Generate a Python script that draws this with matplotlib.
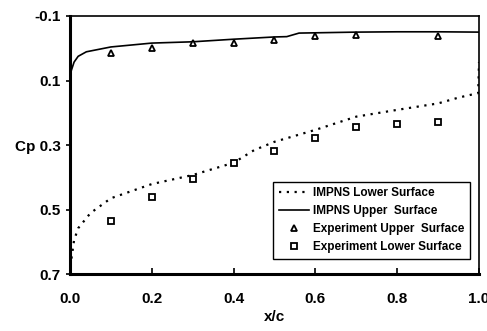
import matplotlib.pyplot as plt

plt.rcParams['font.family'] = ['Liberation Sans', 'DejaVu Sans']
plt.rcParams['font.weight'] = 'bold'

# IMPNS upper surface
upper_x = [0.0, 0.003, 0.01, 0.02, 0.04, 0.1, 0.2, 0.3, 0.4, 0.5, 0.53, 0.56, 0.7, 0.8, 0.9, 1.0]
upper_cp = [0.114, 0.07, 0.043, 0.025, 0.011, -0.004, -0.016, -0.02, -0.028, -0.035, -0.036, -0.047, -0.05, -0.051, -0.051, -0.05]

# IMPNS lower surface
lower_x = [0.0, 0.003, 0.01, 0.02, 0.05, 0.1, 0.2, 0.3, 0.4, 0.45, 0.5, 0.6, 0.7, 0.8, 0.9, 0.95, 0.998, 1.0]
lower_cp = [0.7, 0.657, 0.595, 0.558, 0.511, 0.465, 0.421, 0.393, 0.355, 0.316, 0.29, 0.253, 0.212, 0.191, 0.171, 0.153, 0.139, 0.043]

# experiment
exp_up_x = [0.1, 0.2, 0.3, 0.4, 0.5, 0.6, 0.7, 0.9]
exp_up_cp = [0.015, -0.001, -0.016, -0.016, -0.026, -0.038, -0.041, -0.038]
exp_lo_x = [0.1, 0.2, 0.3, 0.4, 0.5, 0.6, 0.7, 0.8, 0.9]
exp_lo_cp = [0.535, 0.462, 0.405, 0.357, 0.319, 0.277, 0.243, 0.236, 0.23]

fig = plt.figure(figsize=(4.87, 3.31), dpi=100)
ax = fig.add_axes([0.1437, 0.172, 0.8399, 0.7797])

ax.plot(lower_x, lower_cp, color='black', linestyle=(0, (1, 2.5)), linewidth=1.6,
        label='IMPNS Lower Surface')
ax.plot(upper_x, upper_cp, color='black', linestyle='-', linewidth=1.2,
        label='IMPNS Upper  Surface')
ax.plot(exp_up_x, exp_up_cp, linestyle='none', marker='^', markersize=5,
        markerfacecolor='white', markeredgecolor='black', markeredgewidth=1.3,
        label='Experiment Upper  Surface')
ax.plot(exp_lo_x, exp_lo_cp, linestyle='none', marker='s', markersize=5,
        markerfacecolor='white', markeredgecolor='black', markeredgewidth=1.3,
        label='Experiment Lower Surface')

ax.set_xlim(0, 1.0)
ax.set_ylim(0.7, -0.1)
ax.set_xticks([0.0, 0.2, 0.4, 0.6, 0.8, 1.0])
ax.set_xticklabels(['0.0', '0.2', '0.4', '0.6', '0.8', '1.0'])
ax.set_yticks([-0.1, 0.1, 0.3, 0.5, 0.7])
ax.set_yticklabels(['-0.1', '0.1', 'Cp 0.3', '0.5', '0.7'])
ax.tick_params(axis='x', direction='in', length=4, width=1.2, labelsize=11, pad=13)
ax.tick_params(axis='y', direction='out', length=3, width=1.2, labelsize=11, pad=3.5)
for lab in ax.get_xticklabels() + ax.get_yticklabels():
    lab.set_fontweight('bold')

ax.spines['left'].set_linewidth(2.2)
ax.spines['bottom'].set_linewidth(2.2)
ax.spines['top'].set_linewidth(1.2)
ax.spines['right'].set_linewidth(1.2)

ax.set_xlabel('x/c', fontsize=11, fontweight='bold', labelpad=3)

leg = ax.legend(loc='lower right', bbox_to_anchor=(0.978, 0.058), fontsize=8.5,
                frameon=True, fancybox=False, edgecolor='black', framealpha=1,
                handlelength=2.6, handletextpad=0.3, borderpad=0.5, labelspacing=0.5,
                borderaxespad=0)
leg.get_frame().set_linewidth(1.0)
for t in leg.get_texts():
    t.set_fontweight('bold')

fig.savefig('out.png', dpi=100)
